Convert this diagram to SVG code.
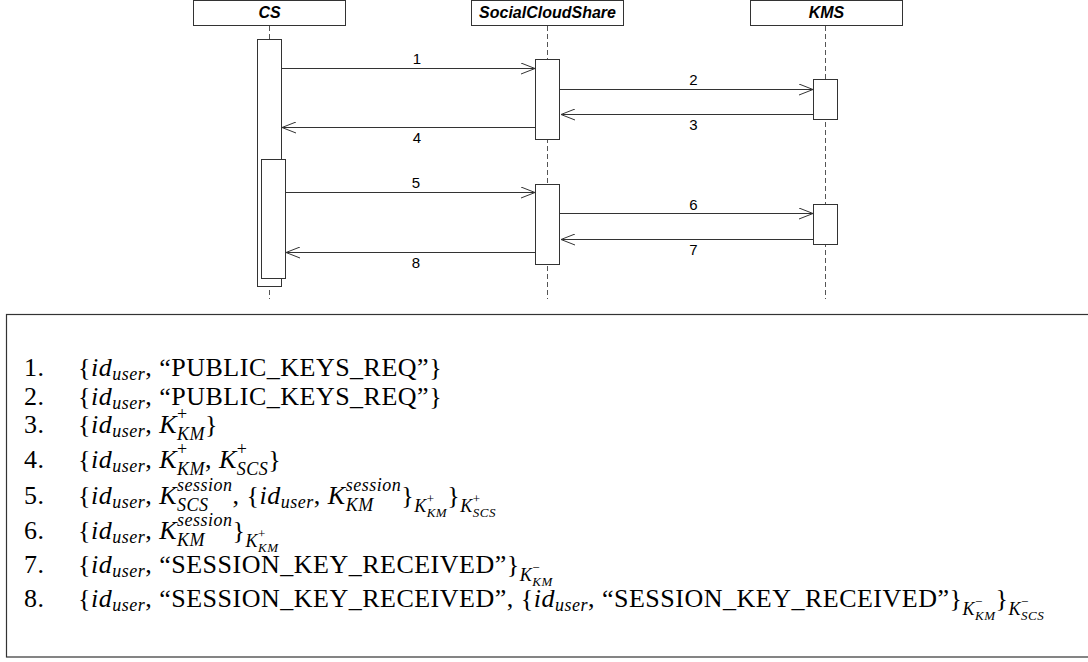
<svg xmlns="http://www.w3.org/2000/svg" width="1088" height="662" viewBox="0 0 1088 662">
<style>
.hdbox{fill:#fff;stroke:#333;stroke-width:1}
.hd{font-family:"Liberation Sans",Arial,sans-serif;font-weight:bold;font-style:italic;font-size:16px;text-anchor:middle;fill:#000}
.life{stroke:#555;stroke-width:1;stroke-dasharray:5 3;fill:none}
.act{fill:#fff;stroke:#333;stroke-width:1}
.msg{stroke:#333;stroke-width:1;fill:none;marker-end:url(#open)}
.lbl{font-family:"Liberation Sans",Arial,sans-serif;font-size:15px;text-anchor:middle;fill:#000}
.frame{fill:#fff;stroke:#333;stroke-width:1.2}
.eq{font-family:"Liberation Serif","Times New Roman",serif;font-size:26px;letter-spacing:0.5px;fill:#000}
.i{font-style:italic}
.s1{font-size:18px}
.s2{font-size:13px}
</style>
<defs>
<marker id="open" markerWidth="16" markerHeight="12" refX="15" refY="6" orient="auto" markerUnits="userSpaceOnUse">
<path d="M1,0.5 L15,6 L1,11.5" fill="none" stroke="#333" stroke-width="1"/>
</marker>
</defs>
<rect width="1088" height="662" fill="#fff"/>

<g id="cs">
<rect class="hdbox" x="193.5" y="0.5" width="152" height="25"/>
<text class="hd" x="269.5" y="18">CS</text>
<line class="life" x1="269.5" y1="26" x2="269.5" y2="299"/>
<rect class="act" x="257.5" y="39.5" width="24" height="247"/>
<rect class="act" x="261.5" y="159.5" width="24" height="119"/>
</g>

<g id="scs">
<rect class="hdbox" x="471.5" y="0.5" width="152" height="25"/>
<text class="hd" x="547.5" y="18">SocialCloudShare</text>
<line class="life" x1="547.5" y1="26" x2="547.5" y2="299"/>
<rect class="act" x="535.5" y="59.5" width="24" height="80"/>
<rect class="act" x="535.5" y="184.5" width="24" height="80"/>
</g>

<g id="kms">
<rect class="hdbox" x="750.5" y="0.5" width="152" height="25"/>
<text class="hd" x="826.5" y="18">KMS</text>
<line class="life" x1="825.5" y1="26" x2="825.5" y2="299"/>
<rect class="act" x="813.5" y="79.5" width="24" height="40"/>
<rect class="act" x="813.5" y="204.5" width="24" height="40"/>
</g>

<g id="connectors">
<line class="msg" x1="281.5" y1="68.5" x2="535" y2="68.5"/>
<text class="lbl" x="417" y="64">1</text>
<line class="msg" x1="559.5" y1="89.5" x2="813" y2="89.5"/>
<text class="lbl" x="693.5" y="85">2</text>
<line class="msg" x1="813.5" y1="114.5" x2="561" y2="114.5"/>
<text class="lbl" x="693.5" y="130">3</text>
<line class="msg" x1="535.5" y1="127.5" x2="282" y2="127.5"/>
<text class="lbl" x="417" y="143">4</text>
<line class="msg" x1="285.5" y1="192.5" x2="535" y2="192.5"/>
<text class="lbl" x="416" y="188">5</text>
<line class="msg" x1="559.5" y1="213.5" x2="813" y2="213.5"/>
<text class="lbl" x="693.5" y="210">6</text>
<line class="msg" x1="813.5" y1="239.5" x2="561" y2="239.5"/>
<text class="lbl" x="693.5" y="255">7</text>
<line class="msg" x1="535.5" y1="252.5" x2="286" y2="252.5"/>
<text class="lbl" x="416" y="268">8</text>
</g>

<g id="legend">
<rect class="frame" x="6.5" y="314.5" width="1100" height="342.5"/>
<text class="eq" x="24" y="376">1.</text>
<text class="eq" x="24" y="405">2.</text>
<text class="eq" x="24" y="433">3.</text>
<text class="eq" x="24" y="468">4.</text>
<text class="eq" x="24" y="504">5.</text>
<text class="eq" x="24" y="539">6.</text>
<text class="eq" x="24" y="573">7.</text>
<text class="eq" x="24" y="607">8.</text>

<text class="eq" x="78" y="376">{<tspan class="i">id</tspan><tspan class="i s1" y="380">user</tspan><tspan y="376">, “PUBLIC_KEYS_REQ”}</tspan></text>

<text class="eq" x="78" y="405">{<tspan class="i">id</tspan><tspan class="i s1" y="409">user</tspan><tspan y="405">, “PUBLIC_KEYS_REQ”}</tspan></text>

<text class="eq" x="78" y="433">{<tspan class="i">id</tspan><tspan class="i s1" y="437">user</tspan><tspan y="433">, </tspan><tspan class="i">K</tspan><tspan class="s1" y="420">+</tspan><tspan class="i s1" dx="-10.7" y="440">KM</tspan><tspan y="433">}</tspan></text>

<text class="eq" x="78" y="468">{<tspan class="i">id</tspan><tspan class="i s1" y="472">user</tspan><tspan y="468">, </tspan><tspan class="i">K</tspan><tspan class="s1" y="455">+</tspan><tspan class="i s1" dx="-10.7" y="475">KM</tspan><tspan y="468">, </tspan><tspan class="i">K</tspan><tspan class="s1" y="455">+</tspan><tspan class="i s1" dx="-10.7" y="475">SCS</tspan><tspan y="468">}</tspan></text>

<text class="eq" x="78" y="504">{<tspan class="i">id</tspan><tspan class="i s1" y="508">user</tspan><tspan y="504">, </tspan><tspan class="i">K</tspan><tspan class="i s1" y="491">session</tspan><tspan class="i s1" dx="-55.5" y="511">SCS</tspan><tspan y="504" dx="24">, {</tspan><tspan class="i">id</tspan><tspan class="i s1" y="508">user</tspan><tspan y="504">, </tspan><tspan class="i">K</tspan><tspan class="i s1" y="491">session</tspan><tspan class="i s1" dx="-55.5" y="511">KM</tspan><tspan y="504" dx="27.5">}</tspan><tspan class="i s1" y="512">K</tspan><tspan class="s2" y="503">+</tspan><tspan class="i s2" dx="-7.8" y="517">KM</tspan><tspan y="504">}</tspan><tspan class="i s1" y="512">K</tspan><tspan class="s2" y="503">+</tspan><tspan class="i s2" dx="-7.8" y="517">SCS</tspan></text>

<text class="eq" x="78" y="539">{<tspan class="i">id</tspan><tspan class="i s1" y="543">user</tspan><tspan y="539">, </tspan><tspan class="i">K</tspan><tspan class="i s1" y="526">session</tspan><tspan class="i s1" dx="-55.5" y="546">KM</tspan><tspan y="539" dx="27.5">}</tspan><tspan class="i s1" y="547">K</tspan><tspan class="s2" y="538">+</tspan><tspan class="i s2" dx="-7.8" y="552">KM</tspan></text>

<text class="eq" x="78" y="573">{<tspan class="i">id</tspan><tspan class="i s1" y="577">user</tspan><tspan y="573">, “SESSION_KEY_RECEIVED”}</tspan><tspan class="i s1" y="581">K</tspan><tspan class="s2" y="572">−</tspan><tspan class="i s2" dx="-7.8" y="586">KM</tspan></text>

<text class="eq" x="78" y="607">{<tspan class="i">id</tspan><tspan class="i s1" y="611">user</tspan><tspan y="607">, “SESSION_KEY_RECEIVED”, {</tspan><tspan class="i">id</tspan><tspan class="i s1" y="611">user</tspan><tspan y="607">, “SESSION_KEY_RECEIVED”}</tspan><tspan class="i s1" y="615">K</tspan><tspan class="s2" y="606">−</tspan><tspan class="i s2" dx="-7.8" y="620">KM</tspan><tspan y="607">}</tspan><tspan class="i s1" y="615">K</tspan><tspan class="s2" y="606">−</tspan><tspan class="i s2" dx="-7.8" y="620">SCS</tspan></text>
</g>
</svg>
